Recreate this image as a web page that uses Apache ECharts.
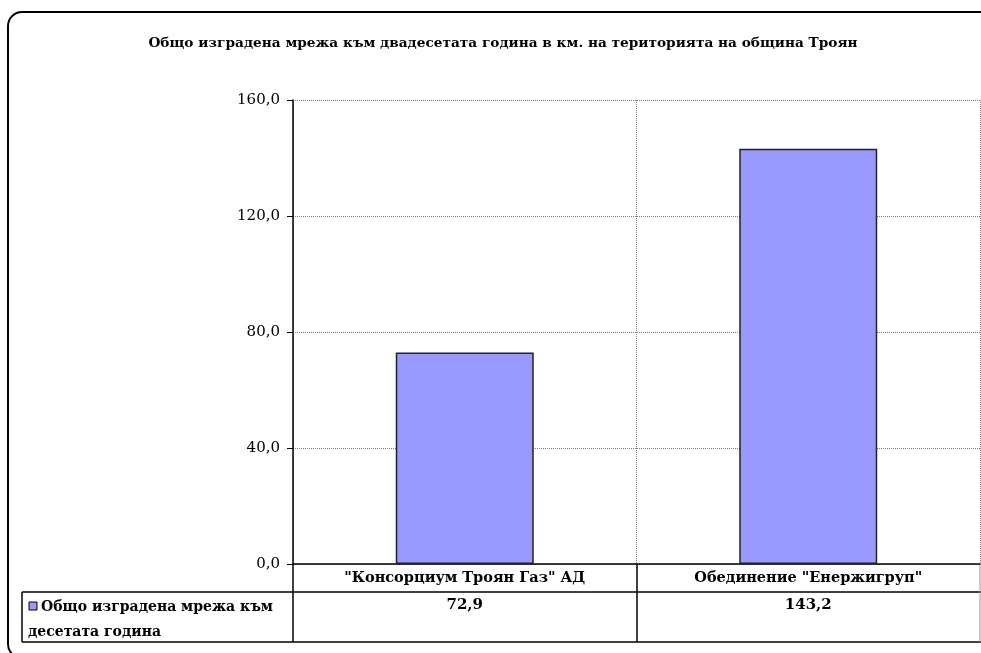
<!DOCTYPE html>
<html><head><meta charset="utf-8">
<script src="https://cdn.jsdelivr.net/npm/echarts@6/dist/echarts.min.js"></script>
<style>html,body{margin:0;padding:0;background:#fff}#c{width:981px;height:653px}</style>
</head><body><div id="c"></div>
<script>
const titleText = 'Общо изградена мрежа към двадесетата година в км. на територията на община Троян';
const categories = ['"Консорциум Троян Газ" АД', 'Обединение "Енержигруп"'];
const seriesName = 'Общо изградена мрежа към десетата година';
const legendLines = ['Общо изградена мрежа към', 'десетата година'];
const values = [72.9, 143.2];
const yTicks = { min: 0, max: 160, interval: 40 };

const FONT = 'DejaVu Serif';
const fmt = v => v.toFixed(1).replace('.', ',');
const chart = echarts.init(document.getElementById('c'));
chart.setOption({
  animation: false,
  backgroundColor: '#fff',
  grid: { left: 293, top: 100, right: 1, bottom: 89, containLabel: false },
  xAxis: {
    type: 'category', data: categories,
    axisLine: { lineStyle: { color: '#000', width: 1.5 } },
    axisTick: { show: false },
    splitLine: { show: true, lineStyle: { color: '#808080', type: 'dotted', width: 1 } },
    axisLabel: { fontFamily: FONT, fontWeight: 'bold', fontSize: 14.5, color: '#000', margin: 7, interval: 0 }
  },
  yAxis: {
    type: 'value', min: yTicks.min, max: yTicks.max, interval: yTicks.interval,
    axisLine: { show: true, lineStyle: { color: '#000', width: 1.5 } },
    axisTick: { show: true, length: 6, lineStyle: { color: '#000', width: 1 } },
    splitLine: { show: true, lineStyle: { color: '#808080', type: 'dotted', width: 1 } },
    axisLabel: { fontFamily: FONT, fontSize: 15, color: '#000', margin: 13, formatter: v => fmt(v) }
  },
  series: [{
    type: 'bar', name: seriesName, data: values, barWidth: 138,
    itemStyle: { color: '#9999FF', borderColor: '#222', borderWidth: 1.5 }
  }]
});

const cx = categories.map((c, i) => chart.convertToPixel({ xAxisIndex: 0 }, c));
const line = (x1, y1, x2, y2, color, w) => ({ type: 'line', silent: true, shape: { x1, y1, x2, y2 }, style: { stroke: color || '#000', lineWidth: w || 1.5 } });
const g = [
  { type: 'rect', shape: { x: 8, y: 12, width: 1000, height: 646, r: 14 }, style: { fill: 'none', stroke: '#000', lineWidth: 2 } },
  { type: 'text', x: 503, y: 43, style: { text: titleText, fontFamily: FONT, fontWeight: 'bold', fontSize: 13.7, fill: '#000', align: 'center', verticalAlign: 'middle' } },
  line(22, 592, 981, 592), line(22, 642, 981, 642),
  line(22, 592, 22, 642), line(293, 564, 293, 642), line(637, 564, 637, 642),
  line(980, 564, 980, 642, '#999', 1),
  { type: 'rect', shape: { x: 29, y: 602, width: 8, height: 8 }, style: { fill: '#9999FF', stroke: '#000', lineWidth: 1 } },
  { type: 'text', x: 41, y: 607, style: { text: legendLines[0], fontFamily: FONT, fontWeight: 'bold', fontSize: 14, fill: '#000', align: 'left', verticalAlign: 'middle' } },
  { type: 'text', x: 28, y: 632, style: { text: legendLines[1], fontFamily: FONT, fontWeight: 'bold', fontSize: 14, fill: '#000', align: 'left', verticalAlign: 'middle' } }
];
values.forEach((v, i) => g.push({ type: 'text', x: cx[i], y: 605, style: { text: fmt(v), fontFamily: FONT, fontWeight: 'bold', fontSize: 15, fill: '#000', align: 'center', verticalAlign: 'middle' } }));
chart.setOption({ graphic: g });
</script></body></html>
